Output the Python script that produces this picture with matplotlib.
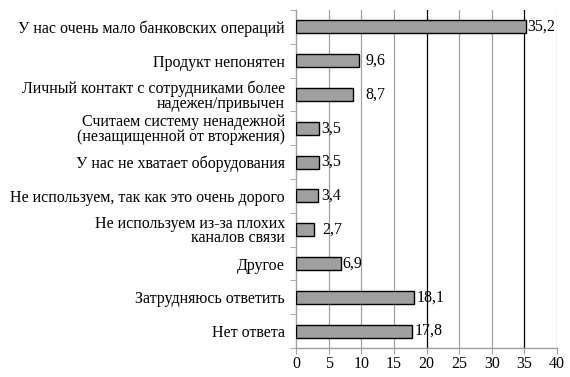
import matplotlib
matplotlib.use("Agg")
import matplotlib.pyplot as plt

# reasons for not using internet banking, % of respondents
categories = [
    "У нас очень мало банковских операций",
    "Продукт непонятен",
    "Личный контакт с сотрудниками более\nнадежен/привычен",
    "Считаем систему ненадежной\n(незащищенной от вторжения)",
    "У нас не хватает оборудования",
    "Не используем, так как это очень дорого",
    "Не используем из-за плохих\nканалов связи",
    "Другое",
    "Затрудняюсь ответить",
    "Нет ответа",
]
values = [35.2, 9.6, 8.7, 3.5, 3.5, 3.4, 2.7, 6.9, 18.1, 17.8]
x_ticks = [0, 5, 10, 15, 20, 25, 30, 35, 40]

# extra horizontal nudge (points) for value labels, as in the original layout
label_pad = [1, 5, 9, 2, 2, 2, 6, 1, 2, 2]

plt.rcParams["font.family"] = ["Liberation Serif", "DejaVu Serif"]
plt.rcParams["font.size"] = 11.5

fig = plt.figure(figsize=(5.7, 3.77), dpi=100)
ax = fig.add_axes([296 / 570, 29 / 377, 261 / 570, 338 / 377])

n = len(categories)
ypos = list(range(n))
ax.set_xlim(0, 40)
ax.set_ylim(n - 0.5, -0.5)

for xt in x_ticks[1:]:
    dark = xt in (20, 35)
    ax.axvline(xt, color="black" if dark else "#a0a0a0", lw=0.9, zorder=1)

ax.barh(ypos, values, height=0.38, color="#a0a0a0", edgecolor="black",
        linewidth=1.0, zorder=3)

for y, v, pad in zip(ypos, values, label_pad):
    ax.annotate(f"{v:.1f}".replace(".", ","), (v, y), xytext=(pad, 0),
                textcoords="offset points", va="center", ha="left",
                zorder=4)

ax.set_xticks(x_ticks)
ax.set_xticklabels([str(t) for t in x_ticks])
ax.set_yticks(ypos)
ax.set_yticklabels(categories, linespacing=0.9)
ax.set_yticks([y + 0.5 for y in range(-1, n)], minor=True)
ax.tick_params(axis="y", which="major", length=0, pad=8)
ax.tick_params(axis="y", which="minor", length=4, color="#a0a0a0")
ax.tick_params(axis="x", length=4, color="#a0a0a0", pad=2)

for side in ("top", "right"):
    ax.spines[side].set_visible(False)
for side in ("left", "bottom"):
    ax.spines[side].set_color("#a0a0a0")
    ax.spines[side].set_linewidth(1.0)

fig.savefig("out.png", dpi=100)
